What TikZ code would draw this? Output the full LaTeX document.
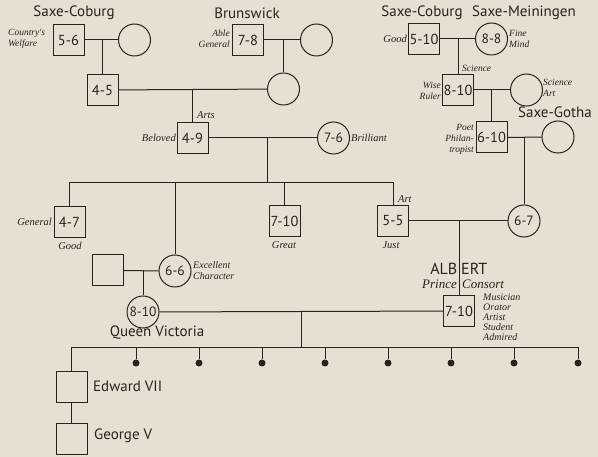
\documentclass[tikz,border=0pt]{standalone}
\usepackage{fontspec}
\newfontfamily\tf{PT Sans}
\newfontfamily\lf{Liberation Serif}
\definecolor{paper}{RGB}{229,224,210}
\definecolor{ink}{RGB}{40,35,30}
\begin{document}
\begin{tikzpicture}[x=1pt,y=-1pt,
  every node/.style={text=ink},
  ln/.style={draw=ink,line width=1pt},
  sq/.style={draw=ink,line width=1pt,rectangle,minimum width=31pt,minimum height=31pt,inner sep=0pt,font=\tf\fontsize{14.5}{15}\selectfont},
  ci/.style={draw=ink,line width=1pt,circle,minimum size=32pt,inner sep=0pt,font=\tf\fontsize{13.5}{14}\selectfont},
  ttl/.style={font=\tf\fontsize{15}{17}\selectfont,inner sep=0pt},
  lbl/.style={font=\lf\itshape\fontsize{10.5}{11}\selectfont,inner sep=1pt},
  lbs/.style={font=\lf\itshape\fontsize{9.5}{11}\selectfont,inner sep=1pt},
  dotn/.style={circle,fill=ink,minimum size=7pt,inner sep=0pt}]
\useasboundingbox (0,0) rectangle (598,457);
\fill[paper] (0,0) rectangle (598,457);

% titles
\node[ttl] (t1) at (74,13) {Saxe-Coburg};
\node[ttl] (t2) at (247,13) {Brunswick};
\node[ttl] (t3) at (422,13) {Saxe-Coburg};
\node[ttl] (t4) at (524,13) {Saxe-Meiningen};
\node[ttl] (t5) at (555,112) {Saxe-Gotha};

% people
\node[sq] (s56) at (68.5,40) {5-6};
\node[ci] (c1) at (134.5,40) {};
\node[sq] (s78) at (248,40) {7-8};
\node[ci] (c2) at (316.5,40) {};
\node[sq] (s510) at (424,39) {5-10};
\node[ci] (c88) at (491.5,39) {8-8};
\node[sq] (s45) at (102.5,90) {4-5};
\node[ci] (c3) at (283.5,89) {};
\node[sq] (s810) at (458,90) {8-10};
\node[ci] (c4) at (526.5,90) {};
\node[sq] (s49) at (192.5,138) {4-9};
\node[ci] (c76) at (333.5,138) {7-6};
\node[sq] (s610) at (491.5,137.5) {6-10};
\node[ci] (c5) at (558,137) {};
\node[sq] (s47) at (69.5,222) {4-7};
\node[sq] (s710) at (284.5,221) {7-10};
\node[sq] (s55) at (393,221) {5-5};
\node[ci] (c67) at (524,221) {6-7};
\node[sq] (s0) at (108,270.5) {};
\node[ci] (c66) at (175,271) {6-6};
\node[ci] (c810) at (143,312) {8-10};
\node[sq] (salb) at (459,311) {7-10};
\node[sq] (sed) at (71.5,387.5) {};
\node[sq] (sge) at (71.5,439) {};

% marriages and descents
\draw[ln] (s56) -- (c1);
\draw[ln] (s45.north) -- (s45.north |- s56);
\draw[ln] (s78) -- (c2);
\draw[ln] (c3.north) -- (c3.north |- s78);
\draw[ln] (s510) -- (c88);
\draw[ln] (s810.north) -- (s810.north |- s510);
\draw[ln] (s45) -- (c3);
\draw[ln] (s49.north) -- (s49.north |- s45);
\draw[ln] (s810) -- (c4);
\draw[ln] (s610.north) -- (s610.north |- s810);
\draw[ln] (s49) -- (c76);
\draw[ln] (s610) -- (c5);
\draw[ln] (c67.north) -- (c67.north |- s610);
\coordinate (j6) at (267,138);
\coordinate (sb) at (0,183);
\draw[ln] (j6) -- (j6 |- sb);
\draw[ln] (s47.north) |- (s55.north |- sb) -- (s55.north);
\draw[ln] (c66.north) -- (c66.north |- sb);
\draw[ln] (s710.north) -- (s710.north |- sb);
\draw[ln] (s55) -- (c67);
\draw[ln] (salb.north) -- (salb.north |- s55);
\draw[ln] (s0) -- (c66);
\draw[ln] (c810.north) -- (c810.north |- s0);
\draw[ln] (c810) -- (salb);
\coordinate (j10) at (301,312);
\coordinate (bar) at (0,348);
\draw[ln] (j10) -- (j10 |- bar);
\foreach \i/\x in {1/136,2/199,3/262,4/325,5/388,6/451,7/514,8/578}
  \node[dotn] (d\i) at (\x,363) {};
\draw[ln] (sed.north) |- (d8 |- bar) -- (d8);
\foreach \i in {1,...,7} \draw[ln] (d\i) -- (d\i |- bar);
\draw[ln] (sed) -- (sge);

% labels
\node[lbs,align=left,anchor=west] (l1) at (7,39) {Country's\\Welfare};
\node[lbs,align=right,anchor=east] (l2) at (231,39) {Able\\General};
\node[lbl,anchor=east] (l3) at (408,39) {Good};
\node[lbs,align=left,anchor=west] (l4) at (508,39) {Fine\\Mind};
\node[lbs,anchor=west] (l5) at (461,68) {Science};
\node[lbs,align=right,anchor=east] (l6) at (442,91) {Wise\\Ruler};
\node[lbs,align=left,anchor=west] (l7) at (542,88) {Science\\Art};
\node[font=\lf\itshape\fontsize{9.5}{11}\selectfont,inner sep=1pt,align=right,anchor=east] (l8) at (475,139) {Poet\\Philan-\\tropist};
\node[lbl,anchor=west] (l9) at (196,115) {Arts};
\node[lbl,anchor=east] (l10) at (177,138) {Beloved};
\node[lbl,anchor=west] (l11) at (350,138) {Brilliant};
\node[lbl,anchor=east] (l12) at (53,222) {General};
\node[lbl] (l13) at (70,246) {Good};
\node[lbl] (l14) at (284,245) {Great};
\node[lbl,anchor=west] (l15) at (397,199) {Art};
\node[lbl] (l16) at (391,245) {Just};
\node[lbl,font=\lf\itshape\fontsize{10}{11}\selectfont,align=left,anchor=west] (l17) at (192,271) {Excellent\\Character};
\node[font=\lf\itshape\fontsize{10}{10}\selectfont,inner sep=0pt,align=left,anchor=north west] (l18) at (483,294) {Musician\\Orator\\Artist\\Student\\Admired};
\node[ttl,font=\tf\fontsize{16}{17}\selectfont,anchor=east] (a1) at (457.5,268.5) {ALB};
\node[ttl,font=\tf\fontsize{16}{17}\selectfont,anchor=west] (a2) at (461,268.5) {ERT};
\node[font=\lf\itshape\fontsize{13}{14}\selectfont,inner sep=0pt,anchor=east] (a3) at (457,284) {Prince};
\node[font=\lf\itshape\fontsize{13}{14}\selectfont,inner sep=0pt,anchor=west] (a4) at (462,284) {Consort};
\node[ttl] (qv) at (157,333) {Queen Victoria};
\node[font=\tf\fontsize{15}{16}\selectfont,inner sep=0pt,anchor=west] (ed) at (93,386) {Edward VII};
\node[font=\tf\fontsize{15}{16}\selectfont,inner sep=0pt,anchor=west] (ge) at (94,436) {George V};
\end{tikzpicture}
\end{document}
